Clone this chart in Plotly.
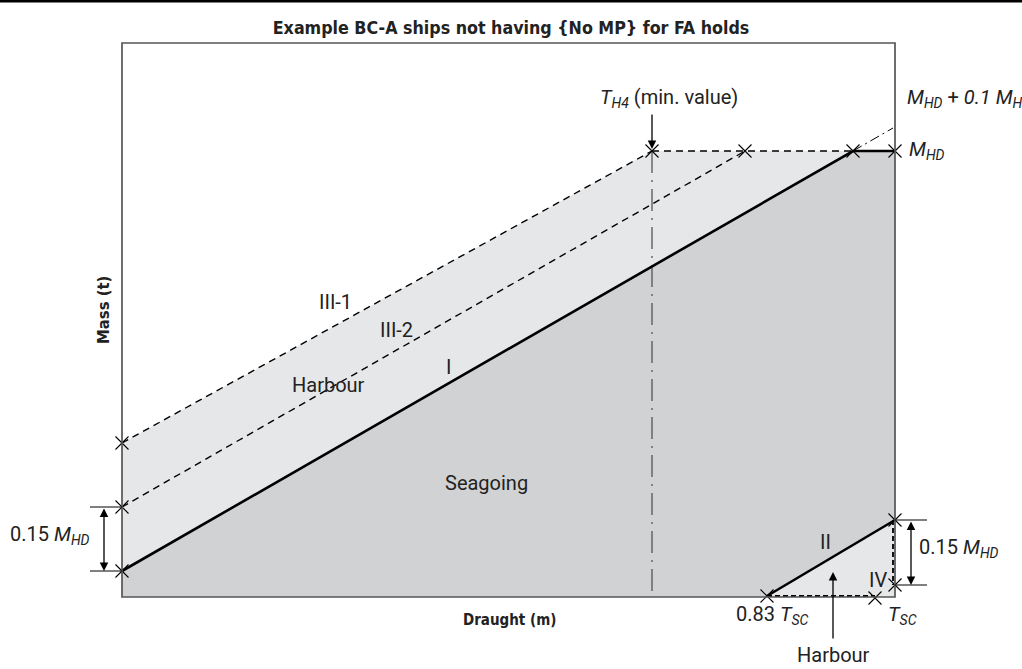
import plotly.graph_objects as go

# schematic chart, draught on x, mass on y (frame spans 0..773 x 0..554)
draught_max = 773
mass_max = 554

# line I - seagoing limit, flat at M_HD
line1_draught = [0, 731, 773]
line1_mass = [26, 446, 446]
# III-2 and III-1 harbour limits
line32_draught = [0, 623]
line32_mass = [90, 446]
line31_draught = [0, 530]
line31_mass = [154, 446]
# M_HD level between T_H4 and line I
mhd_draught = [530, 731]
mhd_mass = [446, 446]
# T_H4 (min. value)
th4_draught = [530, 530]
th4_mass = [446, 0]
# M_HD + 0.1 M_H extension of line I
ext_draught = [731, 771]
ext_mass = [446, 469]
# line II from 0.83 T_SC to T_SC
line2_draught = [645, 773]
line2_mass = [1, 77]
# line IV (dashed)
line4a_draught = [645, 753]
line4a_mass = [1, 1]
line4b_draught = [771, 771]
line4b_mass = [77, 12]
# crossing markers
cross_draught = [0, 0, 0, 530, 623, 731, 773, 645, 773, 753, 773]
cross_mass = [154, 90, 26, 446, 446, 446, 446, 1, 77, -1, 12]

dark = "#d1d2d4"
light = "#e6e7e9"
frame = "#555555"
font = "Roboto, Arial, sans-serif"
bold_font = "Liberation Sans Narrow, Arial Narrow, DejaVu Sans Condensed, sans-serif"

fig = go.Figure()

# seagoing area below line I
fig.add_trace(go.Scatter(x=line1_draught + [draught_max, 0], y=line1_mass + [0, 0],
                         fill="toself", fillcolor=dark, mode="none", hoverinfo="skip"))
# harbour band between III-1 and I
fig.add_trace(go.Scatter(x=line31_draught + mhd_draught[1:] + [0],
                         y=line31_mass + mhd_mass[1:] + [line1_mass[0]],
                         fill="toself", fillcolor=light, mode="none", hoverinfo="skip"))
# harbour triangle under line II
fig.add_trace(go.Scatter(x=line2_draught + [draught_max], y=line2_mass + [0],
                         fill="toself", fillcolor=light, mode="none", hoverinfo="skip"))

dash = "7px,5px"
fig.add_trace(go.Scatter(x=line31_draught, y=line31_mass, mode="lines",
                         line=dict(color="black", width=1.4, dash=dash)))
fig.add_trace(go.Scatter(x=line32_draught, y=line32_mass, mode="lines",
                         line=dict(color="black", width=1.4, dash=dash)))
fig.add_trace(go.Scatter(x=mhd_draught, y=mhd_mass, mode="lines",
                         line=dict(color="black", width=1.4, dash=dash)))
fig.add_trace(go.Scatter(x=th4_draught, y=th4_mass, mode="lines",
                         line=dict(color=frame, width=1.3, dash="22px,7px,2px,7px")))
fig.add_trace(go.Scatter(x=ext_draught, y=ext_mass, mode="lines",
                         line=dict(color="black", width=1, dash="10px,4px,2px,4px")))
fig.add_trace(go.Scatter(x=line4a_draught, y=line4a_mass, mode="lines",
                         line=dict(color="black", width=1.8, dash="5px,3px")))
fig.add_trace(go.Scatter(x=line4b_draught, y=line4b_mass, mode="lines",
                         line=dict(color="black", width=1.8, dash="5px,3px")))
fig.add_trace(go.Scatter(x=line1_draught, y=line1_mass, mode="lines",
                         line=dict(color="black", width=2.6)))
fig.add_trace(go.Scatter(x=line2_draught, y=line2_mass, mode="lines",
                         line=dict(color="black", width=2.6)))
fig.add_trace(go.Scatter(x=cross_draught, y=cross_mass, mode="markers",
                         marker=dict(symbol="x-thin", size=13, line=dict(color="black", width=1.1))))

# frame and top rule
fig.add_shape(type="rect", x0=0, x1=draught_max, y0=0, y1=mass_max,
              line=dict(color=frame, width=1.7), layer="above")
fig.add_shape(type="line", x0=-122, x1=900, y0=595.7, y1=595.7,
              line=dict(color="black", width=2.6))

# dimension ticks
for yv in [line32_mass[0], line1_mass[0]]:
    fig.add_shape(type="line", x0=-32, x1=0, y0=yv, y1=yv, line=dict(color="black", width=1))
for yv in [line2_mass[1], line4b_mass[1]]:
    fig.add_shape(type="line", x0=draught_max, x1=draught_max + 32, y0=yv, y1=yv,
                  line=dict(color="black", width=1))

ann = []
def label(x, y, text, size=20, anchor="center"):
    ann.append(dict(x=x, y=y, text=text, showarrow=False, xanchor=anchor,
                    font=dict(family=font, size=size, color="#222")))

def arrow(x, y, ax, ay, both=False, color="black"):
    ann.append(dict(x=x, y=y, ax=ax, ay=ay, axref="x", ayref="y", text="",
                    showarrow=True, arrowhead=2, arrowsize=1.3, arrowwidth=1.3,
                    arrowcolor=color, arrowside="end+start" if both else "end",
                    startarrowhead=2, startarrowsize=1.3))

label(213, 295, "III-1")
label(274, 267, "III-2")
label(326, 230, "I")
label(206, 212, "Harbour")
label(364, 114, "Seagoing")
label(703, 55, "II")
label(756, 17, "IV")
label(-72, 62, "0.15 <i>M</i><sub><i>HD</i></sub>")
label(795, 49, "0.15 <i>M</i><sub><i>HD</i></sub>", anchor="left")
label(476, 499, "<i>T</i><sub><i>H4</i></sub> (min. value)", anchor="left")
label(783, 499, "<i>M</i><sub><i>HD</i></sub> + <i>0.1 M</i><sub><i>HD</i></sub>", anchor="left")
label(785, 447, "<i>M</i><sub><i>HD</i></sub>", anchor="left")
label(650, -18, "0.83 <i>T</i><sub><i>SC</i></sub>")
label(780, -18, "<i>T</i><sub><i>SC</i></sub>")
label(711, -58, "Harbour")

arrow(th4_draught[0], line31_mass[1] + 2, th4_draught[0], 484)
arrow(711, 25, 711, -43)
arrow(-18, line1_mass[0], -18, line32_mass[0], both=True)
arrow(789, line4b_mass[1], 789, line2_mass[1], both=True)

# axis titles
ann.append(dict(x=-19, y=287, text="<b>Mass (t)</b>", textangle=-90, showarrow=False,
                font=dict(family=bold_font, size=16.5, color="#222")))
ann.append(dict(x=387, y=-23, text="<b>Draught (m)</b>", showarrow=False,
                font=dict(family=bold_font, size=15, color="#222")))

fig.update_layout(
    width=1022, height=669,
    margin=dict(l=0, r=0, t=0, b=0),
    paper_bgcolor="white", plot_bgcolor="white",
    showlegend=False,
    title=dict(text="<b>Example BC-A ships not having {No MP} for FA holds</b>",
               x=0.5, xanchor="center", y=1 - 28 / 669, yanchor="middle",
               font=dict(family=bold_font, size=17.7, color="#222")),
    xaxis=dict(range=[-122, 900], visible=False, fixedrange=True),
    yaxis=dict(range=[-72, 597], visible=False, fixedrange=True),
    annotations=ann,
)

fig.write_html("out.html", config={"displayModeBar": False},
               post_script="document.body.style.margin='0';")
